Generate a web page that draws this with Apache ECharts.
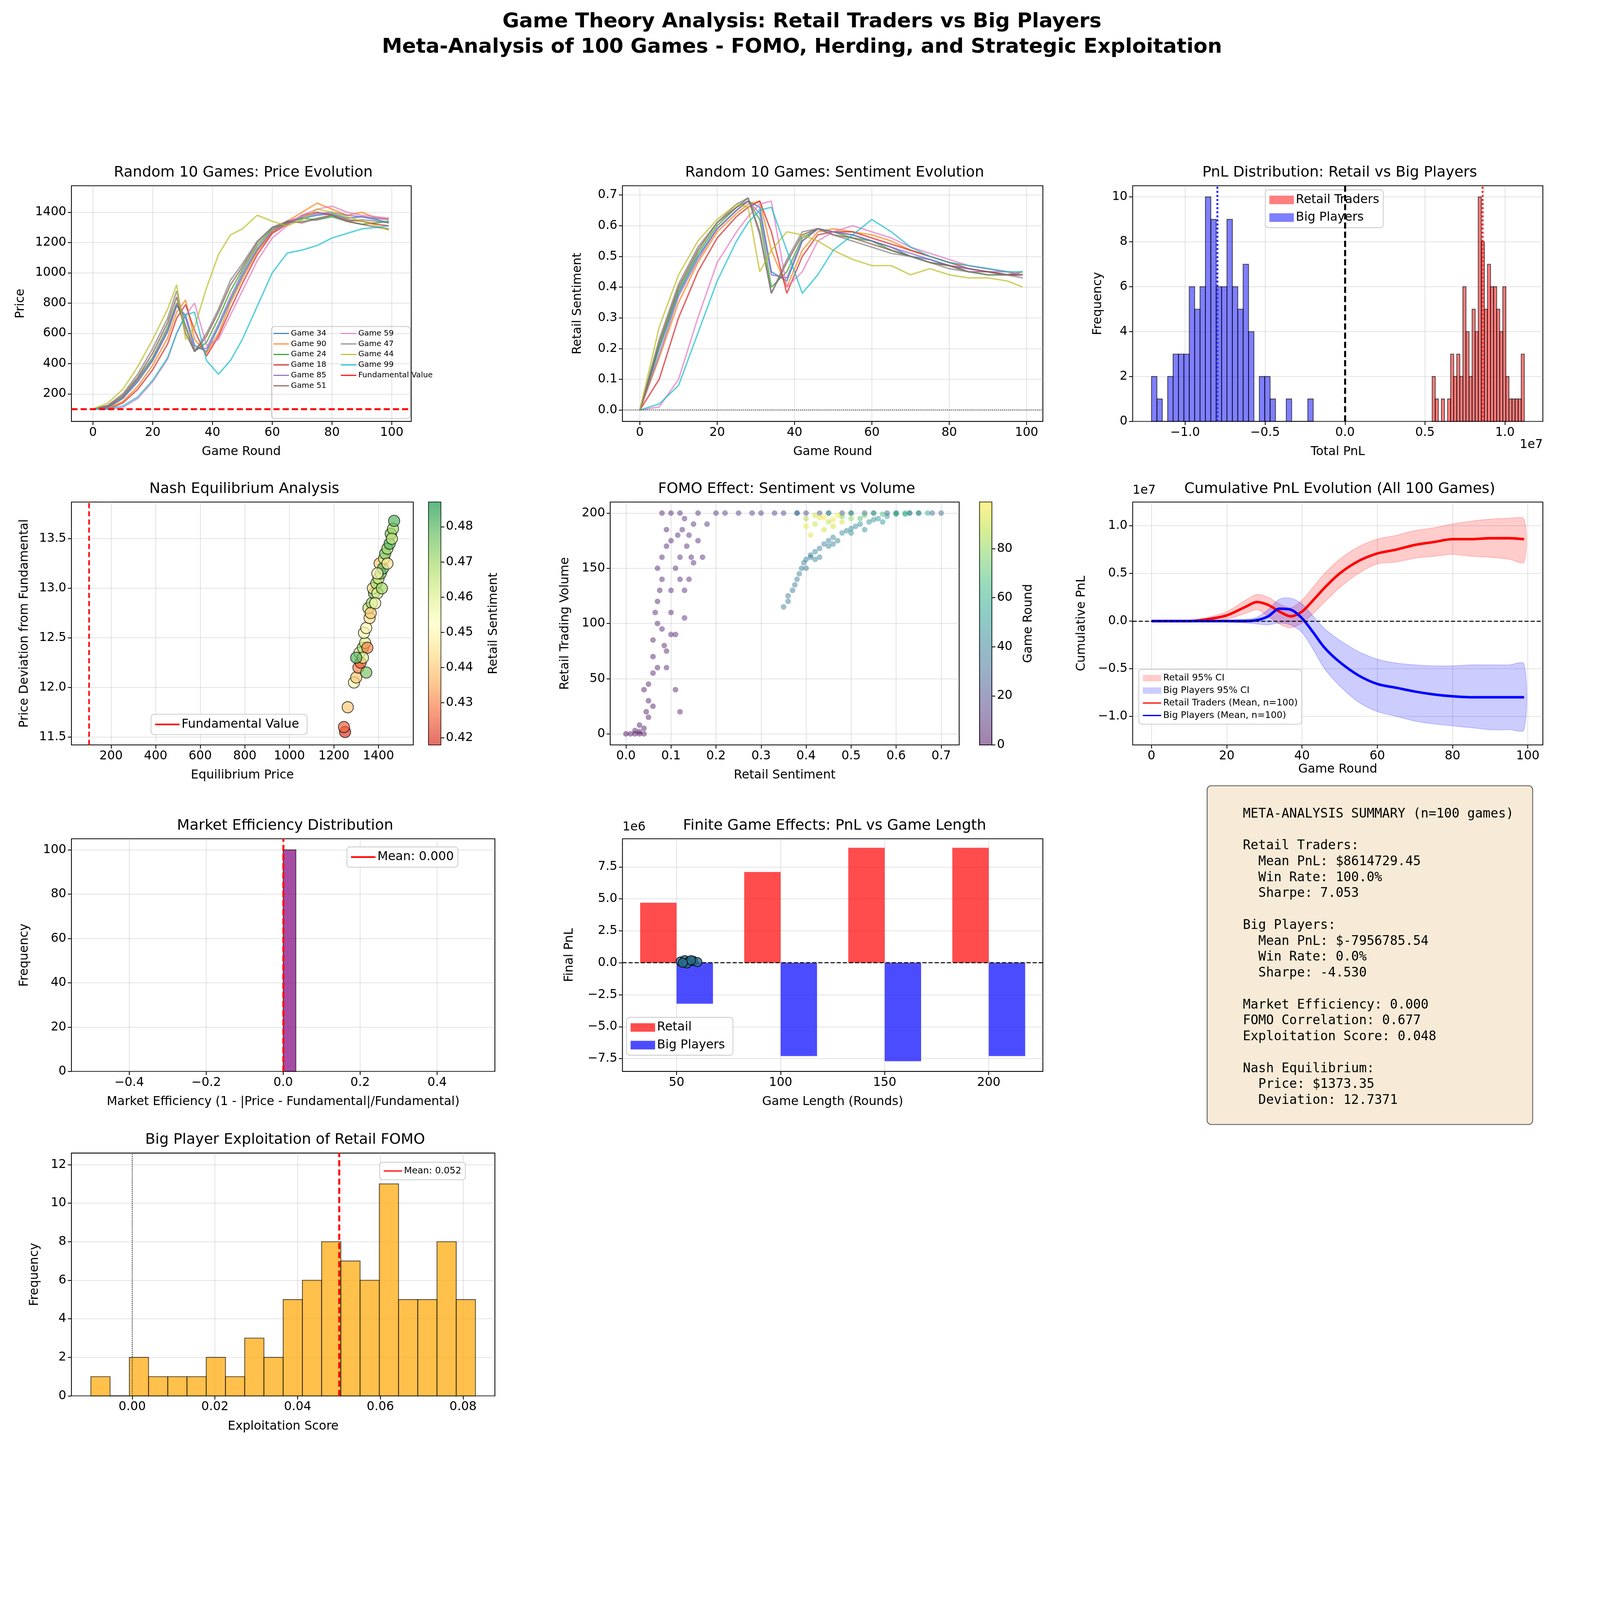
<!DOCTYPE html>
<html lang="en">
<head>
<meta charset="UTF-8">
<title>game theory</title>
<script src="https://cdn.jsdelivr.net/npm/echarts@6/dist/echarts.min.js"></script>
<style>html,body{margin:0;background:#fff;overflow:hidden}#main{width:100vw;height:100vh}</style>
</head>
<body>
<div id="main"></div>
<script>
// ---- data ----
var gameNames = ['Game 34','Game 90','Game 24','Game 18','Game 85','Game 51','Game 59','Game 47','Game 44','Game 99'];
var gameColors = ['#1f77b4','#ff7f0e','#2ca02c','#d62728','#9467bd','#8c564b','#e377c2','#7f7f7f','#bcbd22','#17becf'];
var rounds = [0,5,10,15,20,25,28,31,34,38,42,46,50,55,60,65,70,75,80,85,90,95,99];
var prices = [
  [100,110,170,280,420,610,780,720,520,480,640,820,980,1150,1270,1330,1360,1380,1390,1360,1370,1350,1330],
  [100,105,150,250,390,570,740,820,560,470,600,800,960,1140,1270,1340,1400,1460,1420,1380,1400,1360,1360],
  [100,115,180,300,440,640,800,650,480,540,700,880,1020,1180,1290,1330,1360,1350,1370,1340,1320,1330,1340],
  [100,100,140,230,360,530,700,790,620,450,580,760,930,1120,1260,1320,1380,1400,1380,1350,1340,1320,1310],
  [100,110,175,290,430,620,790,700,500,500,660,840,1000,1160,1280,1340,1370,1390,1400,1380,1370,1360,1350],
  [100,120,190,310,470,670,840,600,480,580,740,920,1040,1200,1300,1340,1330,1360,1380,1340,1320,1300,1290],
  [100,100,110,170,280,430,600,720,800,520,560,720,880,1080,1230,1310,1380,1420,1440,1400,1380,1370,1360],
  [100,125,200,330,500,700,880,640,480,600,760,950,1060,1210,1300,1330,1340,1350,1380,1340,1350,1340,1330],
  [100,140,230,380,560,760,920,560,640,900,1120,1250,1290,1380,1340,1310,1350,1420,1400,1370,1340,1310,1280],
  [100,100,120,180,290,440,600,720,740,420,330,420,560,780,1000,1130,1150,1180,1230,1260,1290,1300,1310]
];
var sentiments = [
  [0,0.20,0.38,0.50,0.59,0.65,0.68,0.66,0.45,0.42,0.55,0.59,0.58,0.57,0.55,0.53,0.50,0.49,0.47,0.46,0.45,0.44,0.44],
  [0,0.17,0.35,0.48,0.58,0.64,0.67,0.68,0.52,0.40,0.52,0.58,0.59,0.58,0.57,0.55,0.52,0.50,0.48,0.47,0.46,0.45,0.44],
  [0,0.21,0.39,0.51,0.60,0.66,0.68,0.62,0.40,0.45,0.56,0.59,0.58,0.56,0.55,0.52,0.50,0.48,0.47,0.45,0.44,0.44,0.45],
  [0,0.10,0.30,0.45,0.56,0.63,0.66,0.68,0.58,0.38,0.50,0.57,0.58,0.58,0.56,0.54,0.52,0.50,0.48,0.46,0.45,0.44,0.44],
  [0,0.18,0.37,0.49,0.59,0.65,0.68,0.64,0.44,0.43,0.55,0.59,0.58,0.57,0.55,0.53,0.51,0.49,0.47,0.46,0.45,0.45,0.44],
  [0,0.22,0.40,0.52,0.61,0.66,0.69,0.58,0.38,0.48,0.57,0.59,0.57,0.56,0.54,0.52,0.50,0.48,0.47,0.45,0.45,0.44,0.44],
  [0,0.01,0.10,0.30,0.48,0.58,0.63,0.67,0.68,0.40,0.45,0.55,0.58,0.60,0.58,0.56,0.53,0.51,0.49,0.47,0.46,0.45,0.44],
  [0,0.23,0.41,0.53,0.61,0.67,0.69,0.57,0.38,0.49,0.58,0.59,0.57,0.55,0.53,0.51,0.50,0.48,0.46,0.45,0.44,0.44,0.43],
  [0,0.27,0.44,0.55,0.62,0.67,0.66,0.45,0.52,0.58,0.57,0.55,0.52,0.49,0.47,0.47,0.44,0.46,0.44,0.43,0.43,0.42,0.40],
  [0,0.02,0.08,0.25,0.42,0.55,0.61,0.65,0.66,0.52,0.38,0.44,0.52,0.57,0.62,0.58,0.53,0.50,0.48,0.47,0.46,0.45,0.45]
];
var bigBinStart = -1.21, bigBinWidth = 0.0337;
var bigCounts = [2,1,0,2,3,3,3,6,5,6,10,9,6,6,9,6,5,7,4,0,2,2,1,0,0,1,0,0,0,1];
var retailBinStart = 0.545, retailBinWidth = 0.0192;
var retailCounts = [2,1,0,1,0,1,3,2,3,2,6,4,2,5,4,10,8,5,7,6,6,5,4,6,2,1,1,1,1,3];
var retailMeanPnl = 0.86, bigMeanPnl = -0.80;
var nashPoints = [
  [1250,11.55,0.42],[1245,11.6,0.425],[1262,11.8,0.44],[1290,12.05,0.455],[1300,12.1,0.44],[1310,12.2,0.43],
  [1320,12.25,0.425],[1315,12.35,0.45],[1330,12.4,0.47],[1340,12.45,0.46],[1350,12.4,0.43],[1335,12.55,0.455],
  [1345,12.6,0.45],[1360,12.7,0.445],[1355,12.8,0.465],[1370,12.85,0.47],[1365,12.75,0.44],[1380,12.95,0.475],
  [1375,13.0,0.445],[1390,13.05,0.47],[1395,12.95,0.46],[1400,13.1,0.465],[1410,13.15,0.475],[1405,13.25,0.44],
  [1420,13.2,0.48],[1425,13.3,0.46],[1430,13.35,0.475],[1440,13.4,0.47],[1450,13.45,0.48],[1455,13.55,0.475],
  [1465,13.6,0.47],[1470,13.68,0.48],[1460,13.5,0.465],[1330,12.3,0.46],[1345,12.15,0.475],[1385,12.85,0.455],
  [1395,13.15,0.45],[1415,13.0,0.47],[1440,13.25,0.445],[1300,12.3,0.48]
];
var fomoPoints = [
  [0,0,0],[0.01,0,1],[0.02,0,1],[0.03,2,2],[0.04,5,2],[0.05,15,3],[0.03,8,2],[0.06,25,3],[0.05,45,4],[0.07,60,4],
  [0.06,85,5],[0.08,95,5],[0.07,120,5],[0.08,140,6],[0.07,150,6],[0.09,170,6],[0.10,130,7],[0.11,150,7],[0.12,160,7],
  [0.10,110,6],[0.09,75,5],[0.11,40,5],[0.12,20,5],[0.13,105,7],[0.14,180,8],[0.15,190,8],[0.16,175,8],[0.13,195,8],
  [0.12,200,8],[0.16,200,9],[0.08,200,5],[0.10,200,6],[0.18,190,9],[0.17,160,8],[0.20,200,10],[0.04,40,3],[0.06,70,4],
  [0.09,60,5],[0.14,140,8],[0.15,155,8],[0.07,100,5],[0.05,30,3],[0.11,90,6],[0.13,130,7],
  [0.065,110,5],[0.075,130,5],[0.08,160,6],[0.09,185,6],[0.10,175,6],[0.115,180,7],[0.125,185,7],[0.135,170,7],
  [0.145,160,8],[0.12,140,7],[0.10,90,6],[0.085,80,5],[0.06,55,4],[0.045,20,3],[0.02,3,1],[0.03,0,1],[0.04,0,1],
  [0.25,200,12],[0.30,200,14],[0.35,200,16],[0.40,200,18],[0.45,200,20],[0.50,200,22],[0.55,200,24],[0.60,200,26],
  [0.65,200,28],[0.70,200,30],[0.22,200,11],[0.28,200,13],[0.33,200,15],[0.38,200,17],[0.43,200,19],[0.48,200,21],
  [0.53,200,23],[0.58,200,25],[0.63,200,27],[0.68,200,29],
  [0.35,115,36],[0.36,125,37],[0.37,130,37],[0.38,140,38],[0.39,150,38],[0.40,158,39],[0.42,165,40],[0.44,172,41],
  [0.46,178,42],[0.48,182,43],[0.50,186,44],[0.52,190,45],[0.55,194,47],[0.58,197,50],[0.60,199,52],[0.63,200,55],
  [0.67,200,58],[0.40,150,38],[0.43,160,40],[0.47,175,42],[0.53,185,46],[0.41,162,39],[0.45,170,41],[0.57,192,48],
  [0.375,135,37],[0.385,145,38],[0.395,155,39],[0.41,160,39],[0.43,168,40],[0.45,175,41],[0.49,184,43],[0.51,188,44],
  [0.54,192,46],[0.56,195,48],[0.62,199,53],[0.65,200,56],[0.36,120,36],[0.42,158,40],[0.46,172,42],[0.50,182,44],
  [0.45,200,60],[0.50,200,62],[0.55,200,65],[0.60,200,62],[0.52,195,68],[0.48,197,75],[0.40,195,85],[0.42,190,90],
  [0.44,185,92],[0.41,180,95],[0.45,192,88],[0.50,195,80],[0.47,198,98],[0.38,200,40],[0.43,196,94],[0.46,194,96],
  [0.42,198,90],[0.44,196,97],[0.48,192,93],[0.40,188,96],[0.46,188,91],[0.53,198,72],[0.57,199,66],[0.62,200,64]
];
var cumRounds = [0,5,10,15,20,25,28,31,34,37,40,43,46,50,55,60,65,70,75,80,85,90,95,99];
var retailMean = [0,0,0,0.02,0.06,0.15,0.2,0.17,0.1,0.05,0.1,0.22,0.35,0.5,0.63,0.71,0.75,0.8,0.83,0.86,0.86,0.87,0.87,0.86];
var retailLo = [0,0,-0.01,0,0.02,0.08,0.12,0.05,-0.03,-0.07,-0.02,0.08,0.2,0.35,0.5,0.6,0.62,0.66,0.68,0.7,0.68,0.67,0.65,0.62];
var retailHi = [0,0,0.01,0.04,0.1,0.22,0.28,0.25,0.18,0.14,0.22,0.36,0.5,0.65,0.78,0.86,0.9,0.95,0.98,1.02,1.05,1.07,1.08,1.07];
var bigMean = [0,0,0,0,0,0,0.01,0.05,0.13,0.12,0.03,-0.12,-0.28,-0.43,-0.57,-0.66,-0.7,-0.74,-0.77,-0.79,-0.8,-0.8,-0.8,-0.8];
var bigLo = [0,0,0,0,-0.01,-0.02,-0.03,-0.04,-0.02,-0.04,-0.12,-0.3,-0.5,-0.68,-0.85,-0.95,-1.0,-1.05,-1.08,-1.1,-1.12,-1.14,-1.14,-1.14];
var bigHi = [0,0,0,0,0.01,0.02,0.04,0.12,0.23,0.24,0.18,0.05,-0.08,-0.2,-0.32,-0.4,-0.44,-0.46,-0.47,-0.47,-0.46,-0.46,-0.46,-0.45];
var effBin = [0, 0.033, 100];
var gameLengths = [50,100,150,200];
var retailFinal = [4.7,7.1,9.0,9.0];
var bigFinal = [-3.2,-7.3,-7.7,-7.3];
var finiteDots = [[52,0.1],[54,0.2],[56,0.1],[58,0.15],[60,0.05],[55,-0.05],[57,0.2],[53,0.0]];
var explBinStart = -0.0100, explBinWidth = 0.00465;
var explCounts = [1,0,2,1,1,1,2,1,3,2,5,6,8,7,6,11,5,5,8,5];
var summaryLines = [
  'META-ANALYSIS SUMMARY (n=100 games)','','Retail Traders:','  Mean PnL: $8614729.45','  Win Rate: 100.0%','  Sharpe: 7.053','',
  'Big Players:','  Mean PnL: $-7956785.54','  Win Rate: 0.0%','  Sharpe: -4.530','',
  'Market Efficiency: 0.000','FOMO Correlation: 0.677','Exploitation Score: 0.048','',
  'Nash Equilibrium:','  Price: $1373.35','  Deviation: 12.7371'
];

// ---- layout helpers (coordinates in a 1568-wide sketch, scaled to the window) ----
var S = window.innerWidth / 1568;
function P(v) { return v * S; }
var FONT = 'DejaVu Sans';
var TF = 12;  // tick / label font size in sketch units
var LINEICON = 'path://M0,0h30v2h-30z';
var boxes = [
  [70,182,403,413],[610,182,1022,413],[1110,182,1512,413],
  [70,492,405,730],[420,492,432,730],[598,492,940,730],[960,492,972,730],[1110,492,1512,730],
  [70,822,485,1050],[610,822,1022,1050],[70,1130,485,1368]
];
var grids = boxes.map(function (b) {
  return { left: P(b[0]), top: P(b[1]), width: P(b[2] - b[0]), height: P(b[3] - b[1]),
           show: true, borderColor: '#000', borderWidth: P(0.8), backgroundColor: 'transparent' };
});
function fmt(d) {
  return function (v) { var s = d < 0 ? String(v) : v.toFixed(d); return s.replace('-', '\u2212'); };
}
function ax(gi, min, max, ticks, dec, name, extra) {
  var a = {
    gridIndex: gi, type: 'value', min: min, max: max,
    axisLine: { show: false, onZero: false },
    axisTick: { show: true, length: P(3.5), lineStyle: { color: '#000', width: P(0.8) }, customValues: ticks },
    axisLabel: { fontSize: P(TF), color: '#000', fontFamily: FONT, margin: P(5), formatter: fmt(dec), customValues: ticks },
    splitLine: { show: true, lineStyle: { color: '#b0b0b0', opacity: 0.35, width: P(0.8) } },
    name: name || '', nameLocation: 'middle', nameGap: P(24),
    nameTextStyle: { fontSize: P(TF), color: '#000', fontFamily: FONT }
  };
  for (var k in extra) a[k] = extra[k];
  return a;
}
function range(a, b, s) { var r = []; for (var v = a; v <= b + 1e-9; v += s) r.push(+v.toFixed(6)); return r; }

var xAxes = [], yAxes = [];
xAxes.push(ax(0, -7.2, 106.5, range(0,100,20), -1, 'Game Round'));
yAxes.push(ax(0, 18, 1575, range(200,1400,200), -1, 'Price', { nameGap: P(44) }));
xAxes.push(ax(1, -4.5, 104.2, range(0,100,20), -1, 'Game Round'));
yAxes.push(ax(1, -0.037, 0.73, range(0,0.7,0.1), 1, 'Retail Sentiment', { nameGap: P(38) }));
xAxes.push(ax(2, -1.328, 1.237, [-1,-0.5,0,0.5,1], 1, 'Total PnL'));
yAxes.push(ax(2, 0, 10.5, range(0,10,2), -1, 'Frequency', { nameGap: P(28) }));
xAxes.push(ax(3, 22, 1556, range(200,1400,200), -1, 'Equilibrium Price'));
yAxes.push(ax(3, 11.42, 13.87, range(11.5,13.5,0.5), 1, 'Price Deviation from Fundamental', { nameGap: P(40) }));
xAxes.push(ax(4, 0, 1, [], -1, '', { show: false }));
yAxes.push(ax(4, 0.418, 0.487, range(0.42,0.48,0.01), 2, 'Retail Sentiment', { position: 'right', nameRotate: 90, nameGap: P(46), splitLine: { show: false } }));
xAxes.push(ax(5, -0.035, 0.74, range(0,0.7,0.1), 1, 'Retail Sentiment'));
yAxes.push(ax(5, -10, 210, range(0,200,50), -1, 'Retail Trading Volume', { nameGap: P(38) }));
xAxes.push(ax(6, 0, 1, [], -1, '', { show: false }));
yAxes.push(ax(6, 0, 99, range(0,80,20), -1, 'Game Round', { position: 'right', nameRotate: 90, nameGap: P(30), splitLine: { show: false } }));
xAxes.push(ax(7, -5, 104, range(0,100,20), -1, 'Game Round', { nameGap: P(18) }));
yAxes.push(ax(7, -1.3, 1.25, [-1,-0.5,0,0.5,1], 1, 'Cumulative PnL', { nameGap: P(44) }));
xAxes.push(ax(8, -0.55, 0.55, [-0.4,-0.2,0,0.2,0.4], 1, 'Market Efficiency (1 - |Price - Fundamental|/Fundamental)'));
yAxes.push(ax(8, 0, 105, range(0,100,20), -1, 'Frequency', { nameGap: P(40) }));
xAxes.push(ax(9, 24, 226, gameLengths, -1, 'Game Length (Rounds)'));
yAxes.push(ax(9, -8.5, 9.7, range(-7.5,7.5,2.5), 1, 'Final PnL', { nameGap: P(46) }));
xAxes.push(ax(10, -0.0147, 0.0877, range(0,0.08,0.02), 2, 'Exploitation Score'));
yAxes.push(ax(10, 0, 12.6, range(0,12,2), -1, 'Frequency', { nameGap: P(30) }));

function vline(x, color, type, w) {
  return { silent: true, symbol: 'none', label: { show: false }, lineStyle: { color: color, type: type, width: P(w) }, data: [{ xAxis: x }] };
}
function histItem(params, api) {
  var a = api.coord([api.value(0), 0]), b = api.coord([api.value(1), api.value(2)]);
  return { type: 'rect', shape: { x: a[0], y: b[1], width: b[0] - a[0], height: a[1] - b[1] },
           style: { fill: api.visual('color'), stroke: 'rgba(0,0,0,0.65)', lineWidth: P(0.8) } };
}
function bins(start, width, counts) {
  return counts.map(function (c, i) { return [start + i * width, start + (i + 1) * width, c]; });
}
function band(xs, lo, hi) {
  return function (params, api) {
    if (params.dataIndex !== 0) return;
    var pts = [], i;
    for (i = 0; i < xs.length; i++) pts.push(api.coord([xs[i], hi[i]]));
    for (i = xs.length - 1; i >= 0; i--) pts.push(api.coord([xs[i], lo[i]]));
    return { type: 'polygon', shape: { points: pts, smooth: 0.3 }, style: { fill: api.visual('color'), stroke: api.visual('color'), lineWidth: P(0.8) } };
  };
}
function pairs(xs, ys) { return xs.map(function (x, i) { return [x, ys[i]]; }); }

var series = [];
// panel 1 & 2
gameNames.forEach(function (n, i) {
  series.push({ name: n, type: 'line', xAxisIndex: 0, yAxisIndex: 0, data: pairs(rounds, prices[i]), showSymbol: false, symbol: 'none',
    color: gameColors[i], lineStyle: { width: P(1.4), opacity: 0.7 } });
  series.push({ name: n + ' s', type: 'line', xAxisIndex: 1, yAxisIndex: 1, data: pairs(rounds, sentiments[i]), showSymbol: false, symbol: 'none',
    color: gameColors[i], lineStyle: { width: P(1.4), opacity: 0.7 } });
});
series.push({ name: 'Fundamental Value', type: 'line', xAxisIndex: 0, yAxisIndex: 0, data: [], symbol: 'none', color: '#ff0000',
  lineStyle: { type: 'dashed', width: P(2) },
  markLine: { silent: true, symbol: 'none', label: { show: false }, lineStyle: { color: '#ff0000', type: [P(6), P(3)], width: P(2) }, data: [{ yAxis: 100 }] } });
series.push({ name: 'zero s', type: 'line', xAxisIndex: 1, yAxisIndex: 1, data: [], symbol: 'none',
  markLine: { silent: true, symbol: 'none', label: { show: false }, lineStyle: { color: '#555', type: 'dotted', width: P(1) }, data: [{ yAxis: 0 }] } });
// panel 3
series.push({ name: 'Retail Traders', type: 'custom', xAxisIndex: 2, yAxisIndex: 2, renderItem: histItem, itemStyle: { color: 'rgba(255,0,0,0.5)' },
  encode: { x: [0, 1], y: 2 }, data: bins(retailBinStart, retailBinWidth, retailCounts),
  markLine: vline(retailMeanPnl, '#ff3030', [P(2), P(2)], 2) });
series.push({ name: 'Big Players', type: 'custom', xAxisIndex: 2, yAxisIndex: 2, renderItem: histItem, itemStyle: { color: 'rgba(0,0,255,0.5)' },
  encode: { x: [0, 1], y: 2 }, data: bins(bigBinStart, bigBinWidth, bigCounts),
  markLine: vline(bigMeanPnl, '#3030ff', [P(2), P(2)], 2) });
series.push({ name: 'zero p', type: 'line', xAxisIndex: 2, yAxisIndex: 2, data: [], symbol: 'none', z: 5,
  markLine: vline(0, '#000', [P(6), P(3)], 2) });
// panel 4
var nashIdx = series.length;
series.push({ name: 'nash', type: 'scatter', xAxisIndex: 3, yAxisIndex: 3, data: nashPoints, symbolSize: P(11),
  itemStyle: { opacity: 0.7, borderColor: '#000', borderWidth: P(0.8) } });
series.push({ name: 'Fundamental Value ', type: 'line', xAxisIndex: 3, yAxisIndex: 3, data: [], symbol: 'none', color: '#ff0000',
  lineStyle: { type: 'dashed', width: P(1.5) }, markLine: vline(100, '#ff0000', [P(5), P(3)], 1.5) });
var rdylgn = ['#a50026','#d73027','#f46d43','#fdae61','#fee08b','#ffffbf','#d9ef8b','#a6d96a','#66bd63','#1a9850','#006837'];
var viridis = ['#440154','#482878','#3e4989','#31688e','#26828e','#1f9e89','#35b779','#6ece58','#b5de2b','#fde725'];
function cbar(colors, alpha) {
  return function (params, api) {
    var a = api.coord([0, api.value(0)]), b = api.coord([1, api.value(1)]);
    var stops = colors.map(function (c, i) { return { offset: 1 - i / (colors.length - 1), color: c }; });
    return { type: 'rect', shape: { x: a[0], y: b[1], width: b[0] - a[0], height: a[1] - b[1] },
             style: { fill: new echarts.graphic.LinearGradient(0, 0, 0, 1, stops), opacity: alpha } };
  };
}
series.push({ name: 'cb1', type: 'custom', xAxisIndex: 4, yAxisIndex: 4, renderItem: cbar(rdylgn.slice(1, 10), 0.7), data: [[0.418, 0.487]], silent: true });
// panel 5
var fomoIdx = series.length;
series.push({ name: 'fomo', type: 'scatter', xAxisIndex: 5, yAxisIndex: 5, data: fomoPoints, symbolSize: P(5.5),
  itemStyle: { opacity: 0.45 } });
series.push({ name: 'cb2', type: 'custom', xAxisIndex: 6, yAxisIndex: 6, renderItem: cbar(viridis, 0.5), data: [[0, 99]], silent: true });
// panel 6
series.push({ name: 'Retail 95% CI', type: 'custom', xAxisIndex: 7, yAxisIndex: 7, renderItem: band(cumRounds, retailLo, retailHi),
  itemStyle: { color: 'rgba(255,0,0,0.2)' }, data: cumRounds.map(function (r) { return [r, 0]; }), silent: true });
series.push({ name: 'Big Players 95% CI', type: 'custom', xAxisIndex: 7, yAxisIndex: 7, renderItem: band(cumRounds, bigLo, bigHi),
  itemStyle: { color: 'rgba(0,0,255,0.2)' }, data: cumRounds.map(function (r) { return [r, 0]; }), silent: true });
series.push({ name: 'Retail Traders (Mean, n=100)', type: 'line', xAxisIndex: 7, yAxisIndex: 7, data: pairs(cumRounds, retailMean), symbol: 'none',
  smooth: 0.3, color: '#ff0000', lineStyle: { width: P(2.5) } });
series.push({ name: 'Big Players (Mean, n=100)', type: 'line', xAxisIndex: 7, yAxisIndex: 7, data: pairs(cumRounds, bigMean), symbol: 'none',
  smooth: 0.3, color: '#0000ff', lineStyle: { width: P(2.5) },
  markLine: { silent: true, symbol: 'none', label: { show: false }, lineStyle: { color: '#000', type: [P(4), P(2)], width: P(1) }, data: [{ yAxis: 0 }] } });
// panel 7
series.push({ name: 'eff', type: 'custom', xAxisIndex: 8, yAxisIndex: 8, renderItem: histItem, itemStyle: { color: 'rgba(128,0,128,0.7)' },
  encode: { x: [0, 1], y: 2 }, data: [effBin] });
series.push({ name: 'Mean: 0.000', type: 'line', xAxisIndex: 8, yAxisIndex: 8, data: [], symbol: 'none', color: '#ff0000',
  lineStyle: { type: 'dashed', width: P(2) }, markLine: vline(0, '#ff0000', [P(6), P(3)], 2) });
// panel 8
function barItem(off) {
  return function (params, api) {
    var a = api.coord([api.value(0) + off, 0]), b = api.coord([api.value(0) + off + 17.5, api.value(1)]);
    return { type: 'rect', shape: { x: a[0], y: Math.min(a[1], b[1]), width: b[0] - a[0], height: Math.abs(a[1] - b[1]) },
             style: { fill: api.visual('color') } };
  };
}
series.push({ name: 'Retail', type: 'custom', xAxisIndex: 9, yAxisIndex: 9, renderItem: barItem(-17.5), itemStyle: { color: 'rgba(255,0,0,0.7)' },
  data: pairs(gameLengths, retailFinal) });
series.push({ name: 'Big Players ', type: 'custom', xAxisIndex: 9, yAxisIndex: 9, renderItem: barItem(0), itemStyle: { color: 'rgba(0,0,255,0.7)' },
  data: pairs(gameLengths, bigFinal),
  markLine: { silent: true, symbol: 'none', label: { show: false }, lineStyle: { color: '#000', type: [P(4), P(2)], width: P(1) }, data: [{ yAxis: 0 }] } });
series.push({ name: 'dots', type: 'scatter', xAxisIndex: 9, yAxisIndex: 9, data: finiteDots, symbolSize: P(9), z: 5,
  itemStyle: { color: '#2a6f8f', borderColor: '#000', borderWidth: P(0.8), opacity: 0.8 } });
// panel 9
series.push({ name: 'expl', type: 'custom', xAxisIndex: 10, yAxisIndex: 10, renderItem: histItem, itemStyle: { color: 'rgba(255,165,0,0.7)' },
  encode: { x: [0, 1], y: 2 }, data: bins(explBinStart, explBinWidth, explCounts),
  markLine: vline(0, '#555', 'dotted', 1) });
series.push({ name: 'Mean: 0.052', type: 'line', xAxisIndex: 10, yAxisIndex: 10, data: [], symbol: 'none', color: '#ff0000',
  lineStyle: { type: 'dashed', width: P(2) }, markLine: vline(0.052, '#ff0000', [P(6), P(3)], 2) });

// ---- titles ----
var titleTexts = ['Random 10 Games: Price Evolution','Random 10 Games: Sentiment Evolution','PnL Distribution: Retail vs Big Players',
  'Nash Equilibrium Analysis',null,'FOMO Effect: Sentiment vs Volume',null,'Cumulative PnL Evolution (All 100 Games)',
  'Market Efficiency Distribution','Finite Game Effects: PnL vs Game Length','Big Player Exploitation of Retail FOMO'];
var titles = [{ text: 'Game Theory Analysis: Retail Traders vs Big Players\nMeta-Analysis of 100 Games - FOMO, Herding, and Strategic Exploitation',
  left: P(784), top: P(7), textAlign: 'center',
  textStyle: { fontSize: P(20), fontWeight: 'bold', color: '#000', fontFamily: FONT, lineHeight: P(25), align: 'center' } }];
titleTexts.forEach(function (t, i) {
  if (!t) return;
  var b = boxes[i];
  titles.push({ text: t, left: P((b[0] + b[2]) / 2), top: P(b[1] - 22), textAlign: 'center',
    textStyle: { fontSize: P(14.4), fontWeight: 'normal', color: '#000', fontFamily: FONT } });
});

function leg(data, l, t, fs, extra) {
  var o = { data: data, left: P(l), top: P(t), orient: 'vertical', itemWidth: P(fs * 2), itemHeight: P(fs * 0.7), itemGap: P(fs * 0.45),
    textStyle: { fontSize: P(fs), color: '#000', fontFamily: FONT }, backgroundColor: 'rgba(255,255,255,0.8)',
    borderColor: '#ccc', borderWidth: P(0.8), borderRadius: P(3), padding: P(4), selectedMode: false, symbolKeepAspect: true };
  for (var k in extra) o[k] = extra[k];
  return o;
}
function li(n) { return { name: n, icon: LINEICON }; }
function ri(n) { return { name: n, icon: 'rect' }; }
var legends = [
  leg(gameNames.slice(0, 6).map(li), 268, 323, 7.6, { borderWidth: 0, backgroundColor: 'rgba(0,0,0,0)', itemGap: P(2.6), padding: 0 }),
  leg(gameNames.slice(6).concat(['Fundamental Value']).map(li), 334, 323, 7.6, { borderWidth: 0, backgroundColor: 'rgba(0,0,0,0)', itemGap: P(2.6), padding: 0 }),
  leg([ri('Retail Traders'), ri('Big Players')], 1240, 186, 12),
  leg([li('Fundamental Value ')], 148, 700, 12),
  leg([ri('Retail 95% CI'), ri('Big Players 95% CI'), li('Retail Traders (Mean, n=100)'), li('Big Players (Mean, n=100)')], 1116, 656, 9, { itemGap: P(3) }),
  leg([li('Mean: 0.000')], 340, 830, 12),
  leg([ri('Retail'), ri('Big Players ')], 614, 997, 12),
  leg([li('Mean: 0.052')], 372, 1139, 9)
];

var graphics = [
  { type: 'rect', z: 0, shape: { x: P(266), y: P(320), width: P(136), height: P(90), r: P(3) }, style: { fill: 'rgba(255,255,255,0.8)', stroke: '#ccc', lineWidth: P(0.8) } },
  { type: 'text', right: P(1568 - 1512), top: P(430), style: { text: '1e7', fontSize: P(TF), fill: '#000', fontFamily: FONT } },
  { type: 'text', left: P(1110), top: P(475), style: { text: '1e7', fontSize: P(TF), fill: '#000', fontFamily: FONT } },
  { type: 'text', left: P(610), top: P(805), style: { text: '1e6', fontSize: P(TF), fill: '#000', fontFamily: FONT } },
  { type: 'rect', shape: { x: P(1183), y: P(770), width: P(319), height: P(332), r: P(4) }, style: { fill: '#f7ebd7', stroke: '#555', lineWidth: P(0.8) } },
  { type: 'text', left: P(1218), top: P(790), style: { text: summaryLines.join('\n'), fontSize: P(12.6), lineHeight: P(15.6), fill: '#000', fontFamily: 'DejaVu Sans Mono' } }
];

var chart = echarts.init(document.getElementById('main'), null, { renderer: 'canvas' });
chart.setOption({
  backgroundColor: '#fff',
  animation: false,
  title: titles,
  legend: legends,
  grid: grids,
  xAxis: xAxes,
  yAxis: yAxes,
  visualMap: [
    { show: false, type: 'continuous', seriesIndex: nashIdx, dimension: 2, min: 0.418, max: 0.487, inRange: { color: rdylgn.slice(1, 10) } },
    { show: false, type: 'continuous', seriesIndex: fomoIdx, dimension: 2, min: 0, max: 99, inRange: { color: viridis } }
  ],
  graphic: graphics,
  series: series
});
</script>
</body>
</html>
